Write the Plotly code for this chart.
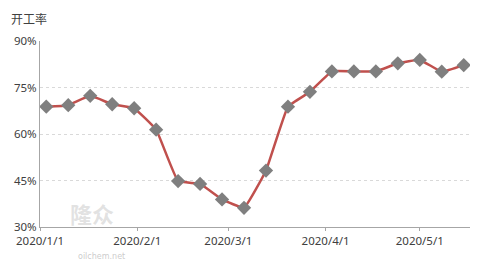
import plotly.graph_objects as go

dates = ["2020-01-03", "2020-01-10", "2020-01-17", "2020-01-24", "2020-01-31",
         "2020-02-07", "2020-02-14", "2020-02-21", "2020-02-28", "2020-03-06",
         "2020-03-13", "2020-03-20", "2020-03-27", "2020-04-03", "2020-04-10",
         "2020-04-17", "2020-04-24", "2020-05-01", "2020-05-08", "2020-05-15"]
rates = [68.8, 69.3, 72.3, 69.6, 68.3, 61.4, 44.8, 43.9, 38.9, 36.2,
         48.2, 68.8, 73.6, 80.2, 80.2, 80.2, 82.8, 83.9, 80.1, 82.2]
tick_dates = ["2020-01-01", "2020-02-01", "2020-03-01", "2020-04-01", "2020-05-01"]
tick_labels = ["2020/1/1", "2020/2/1", "2020/3/1", "2020/4/1", "2020/5/1"]
y_ticks = [30, 45, 60, 75, 90]
y_labels = ["30%", "45%", "60%", "75%", "90%"]

PW, PH = 430, 186  # plot area size in px

fig = go.Figure()
fig.add_trace(go.Scatter(
    x=dates, y=rates, mode="lines+markers",
    line=dict(color="#C0504D", width=2.5, shape="spline", smoothing=0.3),
    marker=dict(symbol="diamond", size=11, color="#7F7F7F"),
))

fig.update_layout(
    width=492, height=265,
    margin=dict(l=40, r=22, t=41, b=38),
    paper_bgcolor="white", plot_bgcolor="white",
    showlegend=False,
    font=dict(family="Noto Sans, Noto Sans CJK SC", size=11, color="#404040"),
)
fig.add_annotation(text="开工率", xref="paper", yref="paper",
                   x=-31 / PW, y=1 + 23 / PH, xanchor="left", yanchor="middle",
                   showarrow=False,
                   font=dict(family="Noto Sans CJK SC", size=12, color="#404040"))
fig.add_annotation(text="<b>隆众</b>", xref="paper", yref="paper",
                   x=28 / PW, y=14 / PH, xanchor="left", yanchor="middle",
                   showarrow=False,
                   font=dict(family="Noto Sans CJK SC", size=22, color="rgba(190,190,190,0.45)"))
fig.add_annotation(text="oilchem.net", xref="paper", yref="paper",
                   x=36 / PW, y=-29 / PH, xanchor="left", yanchor="middle",
                   showarrow=False,
                   font=dict(family="DejaVu Sans", size=8, color="rgba(190,190,190,0.8)"))

fig.update_xaxes(
    type="date", range=["2020-01-01", "2020-05-17"],
    tickvals=tick_dates, ticktext=tick_labels,
    showgrid=False, showline=True, linecolor="#A6A6A6", linewidth=1,
    ticks="outside", ticklen=3, tickcolor="#A6A6A6",
    tickfont=dict(size=11.5, color="#404040"),
)
fig.update_yaxes(
    range=[30, 90], tickvals=y_ticks, ticktext=y_labels,
    showgrid=True, gridcolor="#D9D9D9", griddash="dot", gridwidth=1,
    showline=True, linecolor="#A6A6A6", linewidth=1, zeroline=False,
    tickfont=dict(size=11.5, color="#404040"),
)

fig.write_html("out.html")
